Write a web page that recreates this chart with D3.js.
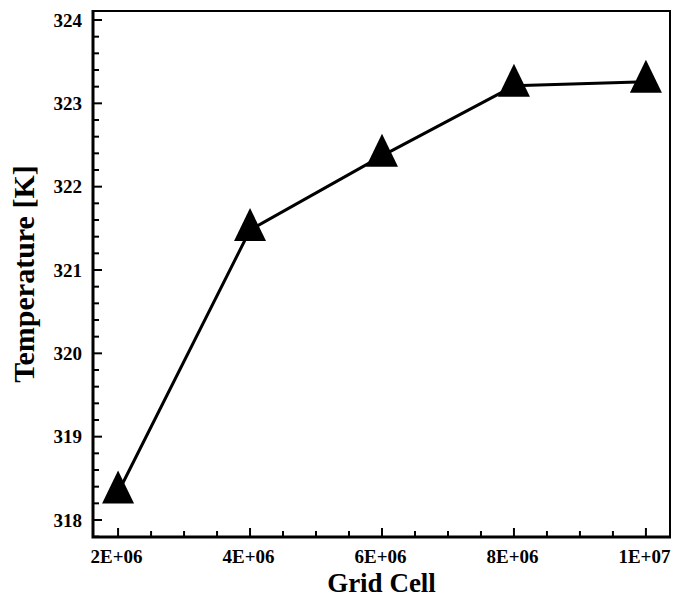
<!DOCTYPE html>
<html>
<head>
<meta charset="utf-8">
<script src="https://cdn.jsdelivr.net/npm/d3@7"></script>
<style>
  body { margin: 0; background: #fff; }
  svg { display: block; }
</style>
</head>
<body>
<svg id="chart" width="673" height="597"></svg>
<script>
// grid study data
const cells = [2e6, 4e6, 6e6, 8e6, 1e7]
const temps = [318.33, 321.48, 322.37, 323.21, 323.26]

const xTicks = [2e6, 4e6, 6e6, 8e6, 1e7]
const xTickLabels = ["2E+06", "4E+06", "6E+06", "8E+06", "1E+07"]
const yTicks = [318, 319, 320, 321, 322, 323, 324]

const serif = "'Liberation Serif', 'Times New Roman', Times, 'DejaVu Serif', serif"

const margin = {left: 93, right: 3, top: 11, bottom: 60}
const width = 673, height = 597

const svg = d3.select("#chart")

var x = d3.scaleLinear()
  .domain([1.62e6, 1.0365e7])
  .range([margin.left, width - margin.right])

var y = d3.scaleLinear()
  .domain([317.796, 324.108])
  .range([height - margin.bottom, margin.top])

// minor ticks
var xMinor = d3.range(1.5e6, 1.05e7 + 1, 5e5).filter(v => v > x.domain()[0] && v < x.domain()[1] && !xTicks.includes(v))
var yMinor = d3.range(317.8, 324.11, 0.2).map(v => +v.toFixed(1)).filter(v => v > y.domain()[0] && v < y.domain()[1] && !yTicks.includes(v))

var x0 = margin.left, x1 = width - margin.right
var y0 = height - margin.bottom, y1 = margin.top

function styleText(sel, size) {
  sel.attr("font-size", size)
     .attr("font-weight", "bold")
     .attr("fill", "#000")
     .style("font-family", serif)
     .style("font-weight", "bold")
}

// frame top / right
svg.append("path")
  .attr("d", `M${x0},${y1}H${x1}V${y0}`)
  .attr("fill", "none")
  .attr("stroke", "#000")
  .attr("stroke-width", 2)

// bottom axis
svg.append("g")
  .attr("transform", `translate(0,${y0})`)
  .call(d3.axisBottom(x).tickValues(xTicks).tickSize(0).tickFormat((d, i) => xTickLabels[i]).tickPadding(13))
  .call(g => g.select(".domain").remove())
  .call(g => g.attr("font-family", null))
  .call(g => styleText(g.selectAll("text").attr("dx", -2), 19))

svg.append("g").selectAll("line")
  .data(xTicks.map(v => ({v, len: 9})).concat(xMinor.map(v => ({v, len: 6}))))
  .enter().append("line")
  .attr("x1", d => x(d.v)).attr("x2", d => x(d.v))
  .attr("y1", y0).attr("y2", d => y0 - d.len)
  .attr("stroke", "#000").attr("stroke-width", 2)

// left axis
svg.append("g")
  .attr("transform", `translate(${x0},0)`)
  .call(d3.axisLeft(y).tickValues(yTicks).tickSize(0).tickFormat(d3.format("d")).tickPadding(11))
  .call(g => g.select(".domain").remove())
  .call(g => g.attr("font-family", null))
  .call(g => styleText(g.selectAll("text"), 19))

svg.append("g").selectAll("line")
  .data(yTicks.map(v => ({v, len: 9})).concat(yMinor.map(v => ({v, len: 6}))))
  .enter().append("line")
  .attr("y1", d => y(d.v)).attr("y2", d => y(d.v))
  .attr("x1", x0).attr("x2", d => x0 + d.len)
  .attr("stroke", "#000").attr("stroke-width", 2)

svg.append("path")
  .attr("d", `M${x0},${y1 - 1}V${y0}H${x1 + 1}`)
  .attr("fill", "none")
  .attr("stroke", "#000")
  .attr("stroke-width", 3)

// data line
var pts = cells.map((c, i) => [c, temps[i]])

svg.append("path")
  .datum(pts)
  .attr("d", d3.line().x(d => x(d[0])).y(d => y(d[1])))
  .attr("fill", "none")
  .attr("stroke", "#000")
  .attr("stroke-width", 3)

// triangle markers, centred on centroid
var tw = 32, th = 33
var tri = `M0,${-th * 2 / 3}L${tw / 2},${th / 3}L${-tw / 2},${th / 3}Z`

svg.append("g").selectAll("path")
  .data(pts)
  .enter().append("path")
  .attr("d", tri)
  .attr("transform", d => `translate(${x(d[0])},${y(d[1])})`)
  .attr("fill", "#000")

// axis titles
svg.append("text")
  .attr("x", (x0 + x1) / 2)
  .attr("y", 592)
  .attr("text-anchor", "middle")
  .call(styleText, 27)
  .text("Grid Cell")

svg.append("text")
  .attr("transform", `translate(34,${(y0 + y1) / 2}) rotate(-90)`)
  .attr("text-anchor", "middle")
  .call(styleText, 30)
  .text("Temperature [K]")
</script>
</body>
</html>
